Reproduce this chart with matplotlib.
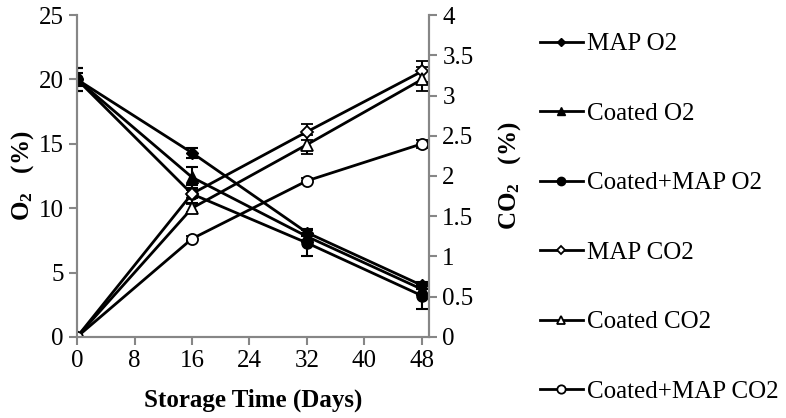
import numpy as np
import matplotlib
matplotlib.use("Agg")
import matplotlib.pyplot as plt

plt.rcParams['font.family'] = ['Liberation Serif', 'DejaVu Serif']
plt.rcParams['mathtext.fontset'] = 'custom'
plt.rcParams['mathtext.rm'] = 'Liberation Serif'
plt.rcParams['mathtext.bf'] = 'Liberation Serif:bold'

days = [0, 16, 32, 48]

# O2 (%) - left axis
map_o2 = [20.0, 14.3, 8.1, 4.0]
coated_o2 = [20.0, 12.4, 7.8, 3.7]
coatedmap_o2 = [20.0, 11.1, 7.3, 3.2]
map_o2_err = [0.5, 0.4, 0.3, 0.3]
coated_o2_err = [0.9, 0.8, 0.3, 0.4]
coatedmap_o2_err = [0.9, 0.7, 1.0, 1.0]

# CO2 (%) - right axis
map_co2 = [0.0, 1.78, 2.55, 3.3]
coated_co2 = [0.0, 1.6, 2.39, 3.2]
coatedmap_co2 = [0.0, 1.22, 1.94, 2.4]
map_co2_err = [0.0, 0.05, 0.1, 0.13]
coated_co2_err = [0.0, 0.05, 0.12, 0.15]
coatedmap_co2_err = [0.0, 0.03, 0.04, 0.05]

fig = plt.figure(figsize=(7.86, 4.18), dpi=100)
ax = fig.add_axes([0.098, 0.194, 0.448, 0.770])
ax2 = ax.twinx()

gray = '#868686'
lw = 2.0
ekw = dict(color='black', ecolor='black', elinewidth=1.5, capsize=4, capthick=1.5, lw=lw)

h1 = ax.errorbar(days, map_o2, yerr=map_o2_err, marker='D', ms=6, mfc='black', mec='black', **ekw)
h2 = ax.errorbar(days, coated_o2, yerr=coated_o2_err, marker='^', ms=8, mfc='black', mec='black', **ekw)
h3 = ax.errorbar(days, coatedmap_o2, yerr=coatedmap_o2_err, marker='o', ms=8, mfc='black', mec='black', **ekw)
h4 = ax2.errorbar(days, map_co2, yerr=map_co2_err, marker='D', ms=6, mfc='white', mec='black', mew=1.3, **ekw)
h5 = ax2.errorbar(days, coated_co2, yerr=coated_co2_err, marker='^', ms=8, mfc='white', mec='black', mew=1.3, **ekw)
h6 = ax2.errorbar(days, coatedmap_co2, yerr=coatedmap_co2_err, marker='o', ms=8, mfc='white', mec='black', mew=1.3, **ekw)

ax.set_xlim(0, 49)
ax.set_ylim(0, 25)
ax2.set_ylim(0, 4)
ax.set_xticks([0, 8, 16, 24, 32, 40, 48])
ax.set_yticks([0, 5, 10, 15, 20, 25])
ax2.set_yticks([0, 0.5, 1, 1.5, 2, 2.5, 3, 3.5, 4])
ax2.set_yticklabels(['0', '0.5', '1', '1.5', '2', '2.5', '3', '3.5', '4'])

for a in (ax, ax2):
    a.spines['top'].set_visible(False)
    for s in ('left', 'right', 'bottom'):
        a.spines[s].set_color(gray)
        a.spines[s].set_linewidth(1.5)
    a.tick_params(colors=gray, labelcolor='black', labelsize=18, width=1.5, length=6)

ax.set_xlabel('Storage Time (Days)', fontsize=18, fontweight='bold', labelpad=12)
ax.set_ylabel(r'$\mathbf{O_2}$   (%)', fontsize=18, fontweight='bold', labelpad=2)
ax2.set_ylabel(r'$\mathbf{CO_2}$   (%)', fontsize=18, fontweight='bold', labelpad=16)

labels = ['MAP O2', 'Coated O2', 'Coated+MAP O2', 'MAP CO2', 'Coated CO2', 'Coated+MAP CO2']
handles = [h[0] for h in (h1, h2, h3, h4, h5, h6)]
fig.legend(handles, labels, loc='upper left', bbox_to_anchor=(0.658, 0.975), frameon=False,
           fontsize=18, labelspacing=1.88, handlelength=1.72, handletextpad=0.16, markerscale=0.75)

fig.savefig('out.png', dpi=100)
